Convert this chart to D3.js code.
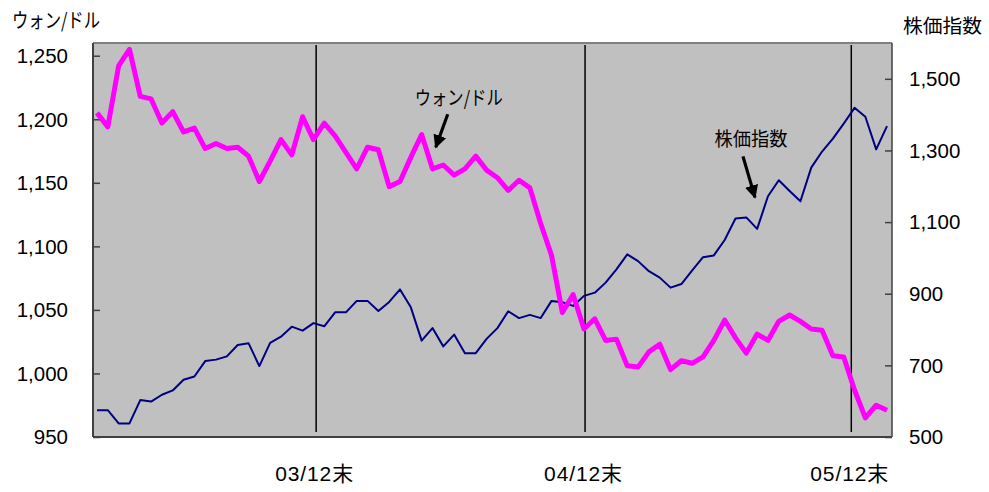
<!DOCTYPE html>
<html>
<head>
<meta charset="utf-8">
<script src="https://cdnjs.cloudflare.com/ajax/libs/d3/7.8.5/d3.min.js"></script>
<style>
    body { margin: 0; background: #fff; }
    text { font-family: "Liberation Sans", Arial, "Noto Sans CJK JP", sans-serif; fill: #000; }
    .jp { font-family: "Noto Sans CJK JP", sans-serif; }
</style>
</head>
<body>
<svg id="chart" width="989" height="492"></svg>
<script>

// won / dollar (left axis), semi-monthly points
var wonDollar = [1205, 1194, 1242, 1255, 1218, 1216, 1197, 1206, 1190, 1193,
    1177, 1181, 1177, 1178, 1171, 1151, 1167, 1184, 1172, 1202,
    1184, 1197, 1187, 1174, 1161, 1178, 1176, 1147, 1151, 1170,
    1188, 1161, 1164, 1156, 1161, 1171, 1160, 1154, 1144, 1152,
    1146, 1118, 1093, 1048, 1062, 1035, 1043, 1026, 1027, 1006,
    1005, 1017, 1023, 1003, 1010, 1008, 1013, 1026, 1042, 1028,
    1016, 1031, 1026, 1041, 1046, 1041, 1035, 1034, 1014, 1013,
    987, 965, 975, 971];

// stock index (right axis)
var stockIndex = [575, 575, 538, 538, 603, 599, 618, 630, 660, 669,
    712, 716, 725, 757, 762, 698, 763, 780, 808, 797,
    818, 809, 848, 848, 880, 880, 852, 877, 912, 862,
    769, 804, 753, 786, 734, 734, 774, 804, 851, 832,
    841, 832, 880, 876, 866, 894, 903, 931, 968, 1010,
    991, 963, 945, 917, 927, 965, 1002, 1007, 1050, 1110,
    1113, 1081, 1172, 1217, 1187, 1158, 1252, 1297, 1333, 1375,
    1419, 1394, 1303, 1368];

var leftTicks = [950, 1000, 1050, 1100, 1150, 1200, 1250];
var rightTicks = [500, 700, 900, 1100, 1300, 1500];

// year-end markers, position in point index
var yearEnds = [
    {"label": "03/12末", "pos": 20.25},
    {"label": "04/12末", "pos": 45.1},
    {"label": "05/12末", "pos": 69.7}
];

var svg = d3.select("#chart");

var plot = {"left": 93, "right": 892, "top": 43, "bottom": 437};

var x = d3.scaleLinear()
    .domain([0, wonDollar.length - 1])
    .range([97, 887]);

var yLeft = d3.scaleLinear()
    .domain([950, 1260])
    .range([plot.bottom, plot.top]);

var yRight = d3.scaleLinear()
    .domain([500, 1600])
    .range([plot.bottom, plot.top]);

// plot background
svg.append("rect")
    .attr("x", plot.left)
    .attr("y", plot.top)
    .attr("width", plot.right - plot.left)
    .attr("height", plot.bottom - plot.top)
    .attr("fill", "#c0c0c0");

svg.append("line")
    .attr("x1", plot.left).attr("x2", plot.right)
    .attr("y1", plot.top).attr("y2", plot.top)
    .attr("stroke", "#808080").attr("stroke-width", 2);

svg.append("line")
    .attr("x1", plot.right).attr("x2", plot.right)
    .attr("y1", plot.top).attr("y2", plot.bottom)
    .attr("stroke", "#404040").attr("stroke-width", 1.5);

// axes, ticks pointing inward
var leftAxis = d3.axisRight(yLeft)
    .tickValues(leftTicks)
    .tickSize(7)
    .tickFormat("");

var rightAxis = d3.axisLeft(yRight)
    .tickValues(rightTicks)
    .tickSize(7)
    .tickFormat("");

var gLeft = svg.append("g")
    .attr("transform", "translate(" + plot.left + ",0)")
    .call(leftAxis);

var gRight = svg.append("g")
    .attr("transform", "translate(" + plot.right + ",0)")
    .call(rightAxis);

gLeft.select(".domain").remove();
gRight.select(".domain").remove();
svg.selectAll(".tick line").attr("stroke", "#404040").attr("stroke-width", 1.5);

svg.append("line")
    .attr("x1", plot.left).attr("x2", plot.left)
    .attr("y1", plot.top).attr("y2", plot.bottom)
    .attr("stroke", "#404040").attr("stroke-width", 2);

svg.append("line")
    .attr("x1", plot.left).attr("x2", plot.right)
    .attr("y1", plot.bottom).attr("y2", plot.bottom)
    .attr("stroke", "#404040").attr("stroke-width", 2);

// tick labels
svg.selectAll(".leftLabel")
    .data(leftTicks)
    .enter()
    .append("text")
    .attr("class", "leftLabel")
    .attr("x", 68)
    .attr("y", function (d) { return yLeft(d); })
    .attr("dy", "0.36em")
    .attr("text-anchor", "end")
    .style("font-size", "20.5px")
    .text(function (d) { return d3.format(",")(d); });

svg.selectAll(".rightLabel")
    .data(rightTicks)
    .enter()
    .append("text")
    .attr("class", "rightLabel")
    .attr("x", 909)
    .attr("y", function (d) { return yRight(d); })
    .attr("dy", "0.36em")
    .attr("text-anchor", "start")
    .style("font-size", "20.5px")
    .text(function (d) { return d3.format(",")(d); });

// year-end lines and labels
svg.selectAll(".yearLine")
    .data(yearEnds)
    .enter()
    .append("line")
    .attr("class", "yearLine")
    .attr("x1", function (d) { return x(d.pos); })
    .attr("x2", function (d) { return x(d.pos); })
    .attr("y1", plot.top + 2)
    .attr("y2", plot.bottom - 5)
    .attr("stroke", "#000")
    .attr("stroke-width", 1.5);

svg.selectAll(".yearLabel")
    .data(yearEnds)
    .enter()
    .append("text")
    .attr("class", "yearLabel")
    .attr("x", function (d) { return x(d.pos) - 2; })
    .attr("y", 481)
    .attr("text-anchor", "middle")
    .attr("textLength", 78)
    .attr("lengthAdjust", "spacing")
    .style("font-size", "21px")
    .text(function (d) { return d.label; });

// series
var stockLine = d3.line()
    .x(function (d, i) { return x(i); })
    .y(function (d) { return yRight(d); });

var wonLine = d3.line()
    .x(function (d, i) { return x(i); })
    .y(function (d) { return yLeft(d); });

svg.append("path")
    .datum(stockIndex)
    .attr("d", stockLine)
    .attr("fill", "none")
    .attr("stroke", "#000080")
    .attr("stroke-width", 2)
    .attr("stroke-linejoin", "round");

svg.append("path")
    .datum(wonDollar)
    .attr("d", wonLine)
    .attr("fill", "none")
    .attr("stroke", "#ff00ff")
    .attr("stroke-width", 5)
    .attr("stroke-linejoin", "round");

// axis titles
svg.append("text")
    .attr("class", "jp")
    .attr("x", 12)
    .attr("y", 28)
    .attr("textLength", 88)
    .attr("lengthAdjust", "spacingAndGlyphs")
    .style("font-size", "20px")
    .text("ウォン/ドル");

svg.append("text")
    .attr("class", "jp")
    .attr("x", 903)
    .attr("y", 33)
    .attr("textLength", 79)
    .attr("lengthAdjust", "spacingAndGlyphs")
    .style("font-size", "19.5px")
    .text("株価指数");

// annotations: arrow tip in data units, tail and label as pixel offsets
var notes = [
    {"label": "ウォン/ドル", "idx": 31.3, "value": yLeft(1178), "dx": 12, "dy": -33, "tx": 23, "ty": -42, "w": 88},
    {"label": "株価指数", "idx": 60.8, "value": yRight(1169), "dx": -12, "dy": -41, "tx": -4, "ty": -51, "w": 73}
];

svg.append("defs").append("marker")
    .attr("id", "head")
    .attr("viewBox", "0 0 10 10")
    .attr("refX", 9)
    .attr("refY", 5)
    .attr("markerWidth", 4.2)
    .attr("markerHeight", 4.2)
    .attr("markerUnits", "strokeWidth")
    .attr("orient", "auto")
    .append("path")
    .attr("d", "M0,0L10,5L0,10Z")
    .attr("fill", "#000");

notes.forEach(function (n) {
    var tipX = x(n.idx);
    var tipY = n.value;

    svg.append("line")
        .attr("x1", tipX + n.dx)
        .attr("y1", tipY + n.dy)
        .attr("x2", tipX)
        .attr("y2", tipY)
        .attr("stroke", "#000")
        .attr("stroke-width", 3.2)
        .attr("marker-end", "url(#head)");

    svg.append("text")
        .attr("class", "jp")
        .attr("x", tipX + n.tx)
        .attr("y", tipY + n.ty)
        .attr("text-anchor", "middle")
        .attr("textLength", n.w)
        .attr("lengthAdjust", "spacingAndGlyphs")
        .style("font-size", "19.5px")
        .text(n.label);
});

</script>
</body>
</html>
